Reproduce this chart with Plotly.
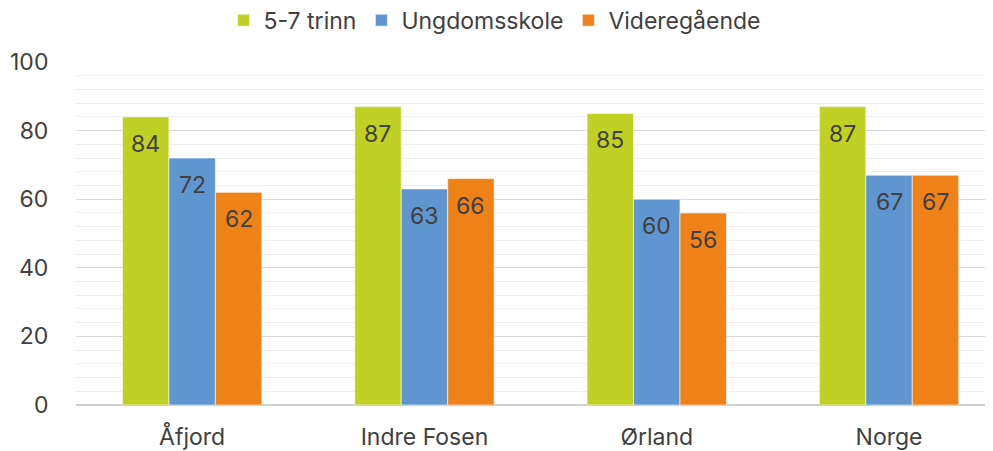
import plotly.graph_objects as go

categories = ["Åfjord", "Indre Fosen", "Ørland", "Norge"]
series_names = ["5-7 trinn", "Ungdomsskole", "Videregående"]
trinn_5_7 = [84, 87, 85, 87]
ungdomsskole = [72, 63, 60, 67]
videregaende = [62, 66, 56, 67]
y_ticks = [0, 20, 40, 60, 80, 100]

colors = ["#BFD124", "#5F96D0", "#EF8119"]
values = [trinn_5_7, ungdomsskole, videregaende]

FONT = "Inter"
TXT = "#404040"
FS = 23

L, R, T, B = 68, 0, 54, 54
W, H = 993, 451
cat_px_target = 232.3
x_range = [-0.5, -0.5 + (W - L - R) / cat_px_target]
cat_px = (W - L - R) / (x_range[1] - x_range[0])
bargap = 0.4
bar_px = cat_px * (1 - bargap) / 3

fig = go.Figure()
for i, (name, vals, col) in enumerate(zip(series_names, values, colors)):
    fig.add_trace(go.Bar(
        x=categories, y=vals, name=name,
        marker=dict(color=col, line=dict(color="rgba(255,255,255,0.6)", width=1)),
    ))
    for c, v in zip(categories, vals):
        fig.add_annotation(
            x=c, y=v, text=str(v), showarrow=False,
            xshift=(i - 1) * bar_px, yshift=-27, yanchor="middle",
            font=dict(family=FONT, size=FS, color=TXT),
        )

fig.update_layout(
    width=W, height=H,
    margin=dict(l=L, r=R, t=T, b=B, autoexpand=False),
    paper_bgcolor="white", plot_bgcolor="white",
    barmode="group", bargap=bargap, bargroupgap=0,
    font=dict(family=FONT, size=FS, color=TXT),
    showlegend=True,
    legend=dict(orientation="h", x=0.49, xref="container", xanchor="center",
                y=0.973, yref="container", yanchor="middle",
                font=dict(family=FONT, size=FS, color=TXT),
                itemwidth=30, traceorder="normal"),
)
fig.update_xaxes(
    range=x_range, showgrid=False, showline=False, zeroline=False,
    tickfont=dict(family=FONT, size=FS, color=TXT), ticks="outside",
    ticklen=11, tickcolor="rgba(0,0,0,0)",
)
fig.update_yaxes(
    range=[0, 100], tickvals=y_ticks, showgrid=True, gridcolor="#D9D9D9", gridwidth=1,
    minor=dict(dtick=4, showgrid=True, gridcolor="#EFEFEF", gridwidth=1),
    zeroline=True, zerolinecolor="#D0D0D0", zerolinewidth=2,
    showline=False, tickfont=dict(family=FONT, size=FS, color=TXT),
    ticks="outside", ticklen=22, tickcolor="rgba(0,0,0,0)",
)

fig.write_html("out.html")
